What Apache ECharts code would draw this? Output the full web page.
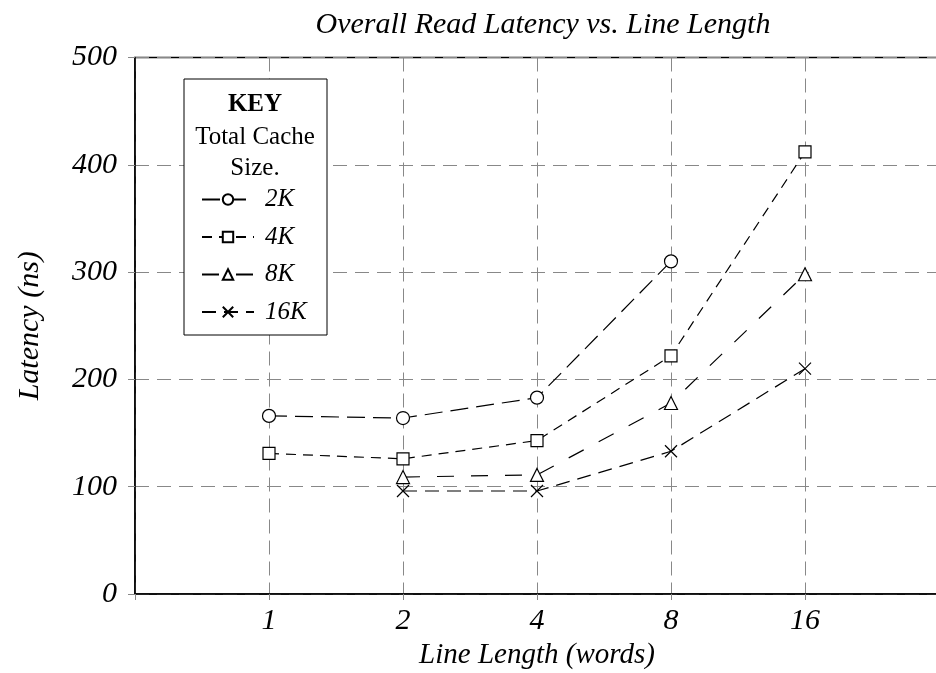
<!DOCTYPE html>
<html>
<head>
<meta charset="utf-8">
<style>
html,body{margin:0;padding:0;background:#fff;}
#chart{width:936px;height:673px;}
</style>
<script src="https://cdn.jsdelivr.net/npm/echarts@6/dist/echarts.min.js"></script>
</head>
<body>
<div id="chart"></div>
<script>
// Categories (line length in words); padded with one empty slot each side
var lineLength = ['1', '2', '4', '8', '16'];
var axisCategories = ['0.5', '1', '2', '4', '8', '16', '32'];
// Series values (latency, ns) per line length; null = no point
var cache2K  = [166, 164, 183, 310, null];
var cache4K  = [131, 126, 143, 222, 412];
var cache8K  = [null, 109, 111, 178, 298];
var cache16K = [null, 96, 96, 133, 210];
var yTicks = [0, 100, 200, 300, 400, 500];

function pad(arr) { return [null].concat(arr).concat([null]); }

var FONT = 'Liberation Serif';
var crossPath = 'path://M0,0L10,10M10,0L0,10';

function mk(name, data, symbol, size, dash) {
  return {
    name: name,
    type: 'line',
    data: pad(data),
    symbol: symbol,
    symbolSize: size,
    showAllSymbol: true,
    connectNulls: false,
    lineStyle: { color: '#000', width: 1.2, type: dash },
    itemStyle: { color: '#fff', borderColor: '#000', borderWidth: 1.2 },
    emphasis: { disabled: true },
    z: 3
  };
}

var chart = echarts.init(document.getElementById('chart'), null, { renderer: 'canvas' });
chart.setOption({
  animation: false,
  backgroundColor: '#fff',
  grid: {
    left: 135, top: 57.5, bottom: 79, width: 804,
    outerBoundsMode: 'none',
    containLabel: false,
    show: true, borderColor: '#000', borderWidth: 1.5, backgroundColor: 'transparent'
  },
  graphic: [
    { type: 'text', x: 543, y: 25, z: 10,
      style: { text: 'Overall Read Latency vs. Line Length', font: 'italic 30px "' + FONT + '"', fill: '#000', align: 'center', verticalAlign: 'middle' } },
    { type: 'rect', shape: { x: 184, y: 79, width: 143, height: 256 }, z: 3,
      style: { fill: '#fff', stroke: '#000', lineWidth: 1 } },
    { type: 'text', x: 255, y: 105, z: 5,
      style: { text: 'KEY', font: 'bold 25px "' + FONT + '"', fill: '#000', align: 'center', verticalAlign: 'middle' } },
    { type: 'text', x: 255, y: 137, z: 5,
      style: { text: 'Total Cache', font: '25px "' + FONT + '"', fill: '#000', align: 'center', verticalAlign: 'middle' } },
    { type: 'text', x: 255, y: 168, z: 5,
      style: { text: 'Size.', font: '25px "' + FONT + '"', fill: '#000', align: 'center', verticalAlign: 'middle' } }
  ],
  legend: {
    orient: 'vertical',
    left: 196, top: 182,
    itemWidth: 52, itemHeight: 13, itemGap: 12.5,
    z: 6,
    textStyle: { fontFamily: FONT, fontStyle: 'italic', fontSize: 25, color: '#000', padding: [0, 0, 0, 6] },
    data: ['2K', '4K', '8K', '16K']
  },
  xAxis: {
    type: 'category',
    data: axisCategories,
    boundaryGap: false,
    name: 'Line Length (words)',
    nameLocation: 'middle',
    nameGap: 46,
    nameTextStyle: { fontFamily: FONT, fontStyle: 'italic', fontSize: 29, color: '#000' },
    axisLine: { lineStyle: { color: '#000', width: 1.5 } },
    axisTick: { show: true, length: 6, inside: false, lineStyle: { color: '#888', width: 1 } },
    axisLabel: {
      margin: 12, fontFamily: FONT, fontStyle: 'italic', fontSize: 30, color: '#000',
      formatter: function (v) { return lineLength.indexOf(v) >= 0 ? v : ''; }
    },
    splitLine: { show: true, lineStyle: { color: '#888', width: 1, type: [14, 7] } }
  },
  yAxis: {
    type: 'value',
    min: yTicks[0], max: yTicks[yTicks.length - 1], interval: 100,
    name: 'Latency (ns)',
    nameLocation: 'middle',
    nameGap: 90,
    nameRotate: 90,
    nameTextStyle: { fontFamily: FONT, fontStyle: 'italic', fontSize: 30, color: '#000' },
    axisLine: { show: true, lineStyle: { color: '#000', width: 1.5 } },
    axisTick: { show: true, length: 7, lineStyle: { color: '#888', width: 1 } },
    axisLabel: { margin: 18, fontFamily: FONT, fontStyle: 'italic', fontSize: 30, color: '#000' },
    splitLine: { show: true, lineStyle: { color: '#888', width: 1, type: [14, 8] } }
  },
  series: [
    mk('2K', cache2K, 'circle', 13, [18, 8]),
    mk('4K', cache4K, 'rect', 12, [10, 7]),
    mk('8K', cache8K, 'triangle', 13, [17, 17]),
    mk('16K', cache16K, crossPath, 12, [14, 8])
  ]
});
</script>
</body>
</html>
